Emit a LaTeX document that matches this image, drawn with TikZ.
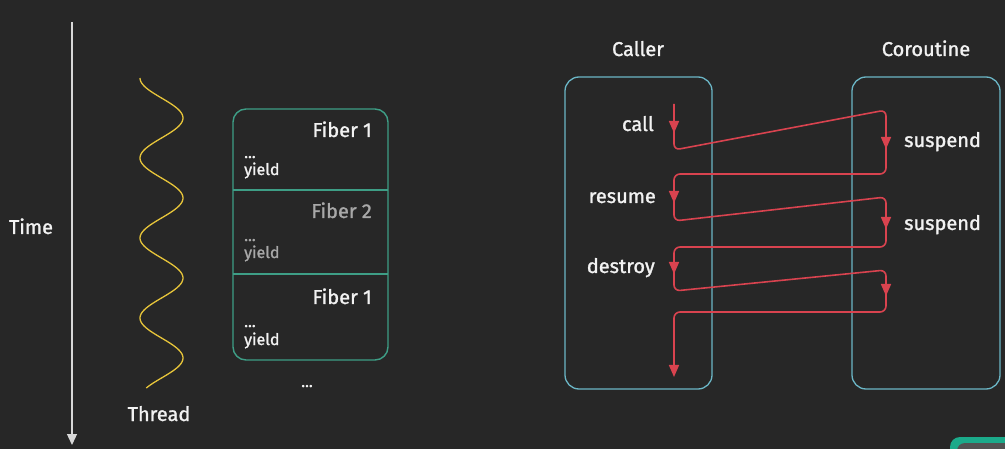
\documentclass[tikz,border=0pt]{standalone}
\usepackage{fontspec}
\setmainfont{Fira Sans}[FakeBold=1.3]
\usetikzlibrary{arrows.meta}
\definecolor{bg}{HTML}{272727}
\definecolor{txt}{HTML}{F2F2F2}
\definecolor{dimtxt}{HTML}{A8A8A8}
\definecolor{timec}{HTML}{D8D8D8}
\definecolor{wavec}{HTML}{E6C43A}
\definecolor{fiberc}{HTML}{3E9E86}
\definecolor{boxc}{HTML}{6BB6C6}
\definecolor{flowc}{HTML}{D9434F}
\definecolor{cornerc}{HTML}{1BAA8A}
\tikzset{
  x=1pt, y=-1pt,
  big/.style={text=txt, inner sep=0pt, font=\fontsize{20}{22}\selectfont},
  small/.style={text=txt, inner sep=0pt, font=\fontsize{16}{18}\selectfont},
  flow/.style={draw=flowc, line width=1.6pt, rounded corners=6pt},
  panel/.style={draw=boxc, line width=1.3pt, rounded corners=14pt},
}
\begin{document}
\begin{tikzpicture}
\fill[bg] (0,0) rectangle (1005,449);
\useasboundingbox (0,0) rectangle (1005,449);
% corner overlay
\fill[cornerc, rounded corners=10pt] (950,437) rectangle (1030,470);
\fill[bg!80!white, rounded corners=8pt] (957,443) rectangle (1030,470);

% Time axis
\coordinate (ttop) at (72,22);
\coordinate (tbot) at (72,445);
\draw[timec, line width=1.3pt, -{Triangle[length=11pt,width=10pt]}] (ttop) -- (tbot);
\node[big, anchor=base] (time) at (31,234) {Time};

% Thread wave
\draw[wavec, line width=1.3pt] plot[domain=78:388, samples=180, smooth] ({161.5-21.5*cos(4.5*(\x-78))}, \x);
\node[big, anchor=base] (thread) at (159,421) {Thread};

% Fiber stack
\draw[fiberc, line width=1.4pt, rounded corners=13pt] (233,109) rectangle (388,360);
\coordinate (d1l) at (233,190); \coordinate (d1r) at (388,190);
\coordinate (d2l) at (233,274); \coordinate (d2r) at (388,274);
\draw[fiberc, line width=1.4pt] (d1l) -- (d1r);
\draw[fiberc, line width=1.4pt] (d2l) -- (d2r);
\node[big, anchor=base east] (f1) at (372,137) {Fiber 1};
\node[small, anchor=base west] (f1d) at (244,158) {...};
\node[small, anchor=base west] (f1y) at (244,175) {yield};
\node[big, anchor=base east, text=dimtxt] (f2) at (372,218) {Fiber 2};
\node[small, anchor=base west, text=dimtxt] (f2d) at (244,241) {...};
\node[small, anchor=base west, text=dimtxt] (f2y) at (244,258) {yield};
\node[big, anchor=base east] (f3) at (372,304) {Fiber 1};
\node[small, anchor=base west] (f3d) at (244,327) {...};
\node[small, anchor=base west] (f3y) at (244,345) {yield};
\node[small, anchor=base] (more) at (307,387) {...};

% Caller / Coroutine panels
\draw[panel] (565,77) rectangle (712,389);
\draw[panel] (852,77) rectangle (1000,389);
\node[big, anchor=base] (caller) at (638,56) {Caller};
\node[big, anchor=base] (coro) at (926,56) {Coroutine};

\node[big, anchor=base east] (call) at (654,131) {call};
\node[big, anchor=base east] (resume) at (656,203) {resume};
\node[big, anchor=base east] (destroy) at (655,273) {destroy};
\node[big, anchor=base west] (susp1) at (904,147) {suspend};
\node[big, anchor=base west] (susp2) at (904,230) {suspend};

% flow path
\coordinate (p0) at (674,104);
\coordinate (p1) at (674,150);
\coordinate (p2) at (886,110);
\coordinate (p3) at (886,174);
\coordinate (p4) at (674,174);
\coordinate (p5) at (674,221);
\coordinate (p6) at (886,197);
\coordinate (p7) at (886,247);
\coordinate (p8) at (674,247);
\coordinate (p9) at (674,291);
\coordinate (p10) at (886,270);
\coordinate (p11) at (886,312);
\coordinate (p12) at (674,312);
\coordinate (p13) at (674,370);
\draw[flow] (p0) -- (p1) -- (p2) -- (p3) -- (p4) -- (p5) -- (p6) -- (p7) -- (p8) -- (p9) -- (p10) -- (p11) -- (p12) -- (p13);

% arrow heads along the flow
\coordinate (a1s) at (674,118); \coordinate (a1e) at (674,133);
\coordinate (a2s) at (886,134); \coordinate (a2e) at (886,149);
\coordinate (a3s) at (674,188); \coordinate (a3e) at (674,203);
\coordinate (a4s) at (886,214); \coordinate (a4e) at (886,229);
\coordinate (a5s) at (674,259); \coordinate (a5e) at (674,274);
\coordinate (a6s) at (886,281); \coordinate (a6e) at (886,296);
\coordinate (a7s) at (674,362); \coordinate (a7e) at (674,377);
\foreach \s/\e in {a1s/a1e,a2s/a2e,a3s/a3e,a4s/a4e,a5s/a5e,a6s/a6e,a7s/a7e}
  \draw[flowc, line width=1.6pt, -{Triangle[length=12pt,width=10pt]}] (\s) -- (\e);
\end{tikzpicture}
\end{document}
